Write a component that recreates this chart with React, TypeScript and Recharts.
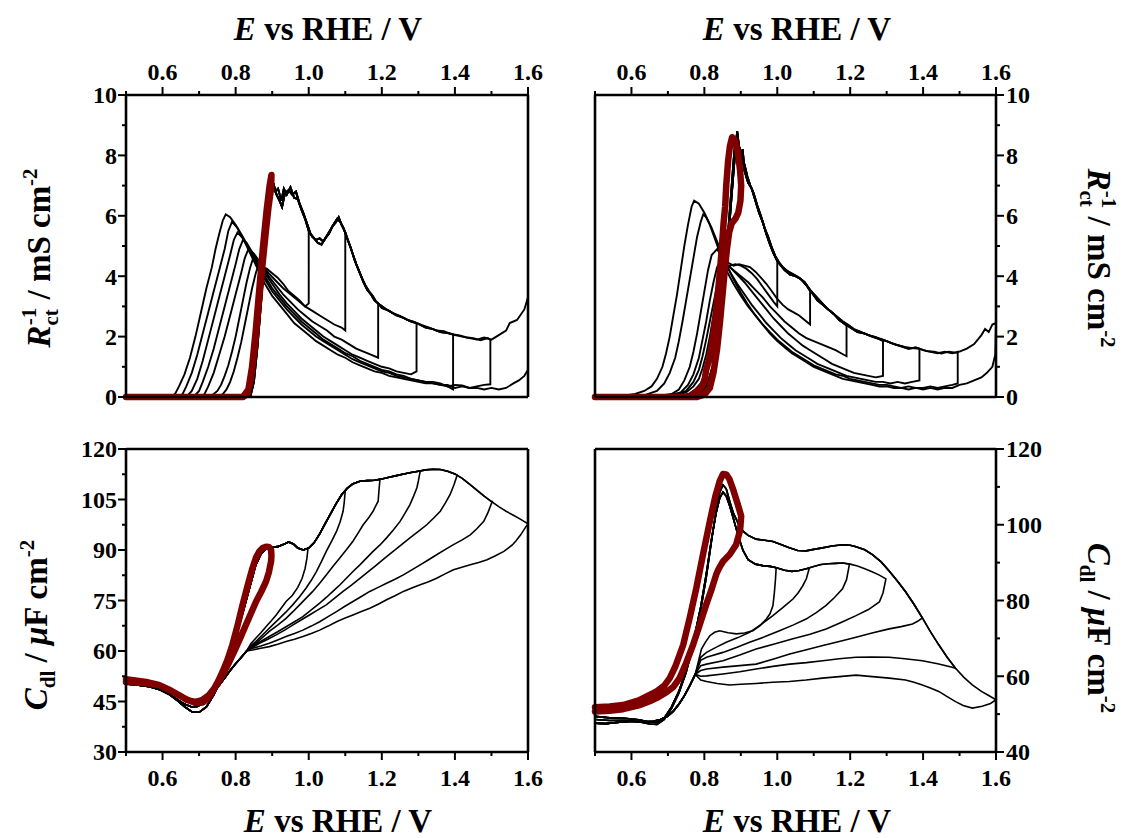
import React from "react";
import { LineChart, Line, XAxis, YAxis } from "recharts";

type P = [number, number];

// axes
const xTicks = [0.5, 0.6, 0.7, 0.8, 0.9, 1.0, 1.1, 1.2, 1.3, 1.4, 1.5, 1.6];
const xLabels = ["0.6", "0.8", "1.0", "1.2", "1.4", "1.6"];
const rTicks = [0, 1, 2, 3, 4, 5, 6, 7, 8, 9, 10];
const rLabels = [0, 2, 4, 6, 8, 10];
const cLeftTicks = [30, 37.5, 45, 52.5, 60, 67.5, 75, 82.5, 90, 97.5, 105, 112.5, 120];
const cLeftLabels = [30, 45, 60, 75, 90, 105, 120];
const cRightTicks = [40, 50, 60, 70, 80, 90, 100, 110, 120];
const cRightLabels = [40, 60, 80, 100, 120];

// ---------- top left: 1/Rct, two anodic sweeps (cycles overlap on it) ----------
const tlAnodicA: P[] = [
  [0.5, 0], [0.6, 0], [0.7, 0], [0.8, 0], [0.835, 0], [0.845, 0.3], [0.855, 1.2], [0.865, 2.6], [0.875, 4.1],
  [0.885, 5.6], [0.895, 6.7], [0.905, 7.0], [0.912, 6.7], [0.92, 6.5], [0.927, 6.3], [0.935, 6.75], [0.945, 6.85],
  [0.955, 6.7], [0.965, 6.8], [0.975, 6.4], [0.985, 6.1], [0.995, 5.75], [1.005, 5.4], [1.015, 5.25], [1.025, 5.1],
  [1.035, 5.05], [1.045, 5.25], [1.055, 5.4], [1.065, 5.65], [1.075, 5.8], [1.082, 5.95], [1.09, 5.7], [1.1, 5.45],
  [1.11, 5.1], [1.12, 4.75], [1.13, 4.4], [1.14, 4.1], [1.15, 3.8], [1.16, 3.55], [1.17, 3.4], [1.18, 3.2],
  [1.19, 3.1], [1.2, 2.95], [1.22, 2.85], [1.24, 2.7], [1.26, 2.62], [1.28, 2.5], [1.3, 2.42], [1.32, 2.3],
  [1.34, 2.25], [1.36, 2.15], [1.38, 2.12], [1.4, 2.05], [1.42, 2.0], [1.44, 1.95], [1.46, 1.9], [1.48, 1.97],
  [1.5, 1.9], [1.52, 2.05], [1.54, 2.2], [1.55, 2.45], [1.57, 2.55], [1.59, 2.9], [1.6, 3.3],
];
const tlAnodicB: P[] = [
  [0.5, 0], [0.6, 0], [0.7, 0], [0.8, 0], [0.84, 0], [0.85, 0.5], [0.86, 1.7], [0.87, 3.2], [0.88, 4.8],
  [0.89, 6.1], [0.9, 6.9], [0.908, 6.8], [0.916, 6.9], [0.925, 6.5], [0.932, 6.9], [0.94, 6.7], [0.95, 6.95],
  [0.96, 6.6], [0.97, 6.55], [0.98, 6.2], [0.99, 5.9], [1.0, 5.5], [1.01, 5.3], [1.02, 5.2], [1.03, 5.25],
  [1.04, 5.15], [1.05, 5.35], [1.06, 5.55], [1.07, 5.75], [1.078, 5.9], [1.086, 5.8], [1.095, 5.6], [1.105, 5.25],
  [1.115, 4.95], [1.125, 4.55], [1.135, 4.25], [1.145, 3.95], [1.155, 3.7], [1.165, 3.5], [1.175, 3.35], [1.185, 3.15],
  [1.195, 3.05], [1.21, 2.92], [1.23, 2.78], [1.25, 2.68], [1.27, 2.55], [1.29, 2.48], [1.31, 2.38], [1.33, 2.3],
  [1.35, 2.2], [1.37, 2.18], [1.39, 2.08], [1.41, 2.05], [1.43, 1.98], [1.45, 1.95], [1.47, 1.88], [1.49, 1.95],
  [1.51, 1.98], [1.53, 2.1], [1.55, 2.35], [1.56, 2.5], [1.58, 2.7], [1.6, 3.2],
];
const tlTurns = [1.0, 1.1, 1.19, 1.295, 1.395, 1.497, 1.6];
const tlR10: P[] = [
  [1.0, 5.55], [1.0, 3.1], [0.99, 3.0], [0.975, 3.2], [0.96, 3.35], [0.945, 3.5], [0.93, 3.75], [0.915, 3.95],
  [0.9, 4.1], [0.885, 4.25], [0.872, 4.3], [0.862, 4.35], [0.855, 4.1], [0.845, 3.6], [0.835, 3.0], [0.825, 2.4],
  [0.815, 1.8], [0.805, 1.3], [0.795, 0.85], [0.785, 0.5], [0.775, 0.25], [0.765, 0.1], [0.755, 0], [0.5, 0],
];
const tlR11: P[] = [
  [1.1, 5.45], [1.1, 2.2], [1.09, 2.3], [1.07, 2.4], [1.05, 2.55], [1.03, 2.7], [1.01, 2.85], [0.99, 3.0],
  [0.97, 3.2], [0.95, 3.4], [0.93, 3.6], [0.91, 3.85], [0.89, 4.1], [0.87, 4.4], [0.855, 4.55], [0.848, 4.6],
  [0.84, 4.3], [0.83, 3.8], [0.82, 3.2], [0.81, 2.6], [0.8, 2.0], [0.79, 1.5], [0.78, 1.05], [0.77, 0.7],
  [0.76, 0.4], [0.75, 0.2], [0.735, 0.05], [0.725, 0], [0.5, 0],
];
const tlR12: P[] = [
  [1.19, 3.1], [1.19, 1.3], [1.17, 1.4], [1.15, 1.5], [1.13, 1.6], [1.11, 1.75], [1.09, 1.9], [1.07, 2.0],
  [1.05, 2.2], [1.03, 2.35], [1.01, 2.5], [0.99, 2.7], [0.97, 2.9], [0.95, 3.15], [0.93, 3.4], [0.91, 3.7],
  [0.89, 4.0], [0.87, 4.4], [0.85, 4.75], [0.835, 4.9], [0.825, 4.6], [0.815, 4.1], [0.8, 3.4], [0.785, 2.7],
  [0.77, 2.0], [0.755, 1.4], [0.74, 0.8], [0.725, 0.35], [0.715, 0.1], [0.705, 0], [0.5, 0],
];
const tlR13: P[] = [
  [1.295, 2.42], [1.295, 0.85], [1.28, 0.75], [1.26, 0.8], [1.24, 0.85], [1.22, 0.95], [1.2, 1.0], [1.18, 1.1],
  [1.16, 1.2], [1.14, 1.3], [1.12, 1.4], [1.1, 1.55], [1.08, 1.7], [1.06, 1.85], [1.04, 2.0], [1.02, 2.2],
  [1.0, 2.4], [0.98, 2.6], [0.96, 2.85], [0.94, 3.1], [0.92, 3.4], [0.9, 3.75], [0.88, 4.1], [0.86, 4.5],
  [0.84, 4.9], [0.83, 5.1], [0.82, 5.2], [0.81, 4.9], [0.8, 4.4], [0.785, 3.7], [0.77, 3.0], [0.755, 2.3],
  [0.74, 1.6], [0.725, 1.0], [0.71, 0.5], [0.7, 0.2], [0.685, 0], [0.5, 0],
];
const tlR14: P[] = [
  [1.395, 2.08], [1.395, 0.25], [1.38, 0.35], [1.36, 0.4], [1.34, 0.45], [1.32, 0.5], [1.3, 0.55], [1.28, 0.6],
  [1.26, 0.7], [1.24, 0.75], [1.22, 0.85], [1.2, 0.9], [1.18, 1.0], [1.16, 1.1], [1.14, 1.2], [1.12, 1.35],
  [1.1, 1.45], [1.08, 1.6], [1.06, 1.75], [1.04, 1.9], [1.02, 2.1], [1.0, 2.3], [0.98, 2.5], [0.96, 2.75],
  [0.94, 3.0], [0.92, 3.3], [0.9, 3.6], [0.88, 4.0], [0.86, 4.4], [0.84, 4.85], [0.82, 5.25], [0.805, 5.45],
  [0.795, 5.2], [0.785, 4.7], [0.77, 4.0], [0.755, 3.3], [0.74, 2.6], [0.725, 1.9], [0.71, 1.2], [0.695, 0.6],
  [0.68, 0.2], [0.665, 0], [0.5, 0],
];
const tlR15: P[] = [
  [1.497, 1.9], [1.497, 0.42], [1.48, 0.4], [1.46, 0.35], [1.44, 0.3], [1.42, 0.38], [1.4, 0.4], [1.38, 0.35],
  [1.36, 0.45], [1.34, 0.5], [1.32, 0.5], [1.3, 0.55], [1.28, 0.6], [1.26, 0.65], [1.24, 0.7], [1.22, 0.8],
  [1.2, 0.85], [1.18, 0.95], [1.16, 1.05], [1.14, 1.15], [1.12, 1.25], [1.1, 1.4], [1.08, 1.55], [1.06, 1.7],
  [1.04, 1.85], [1.02, 2.0], [1.0, 2.2], [0.98, 2.4], [0.96, 2.65], [0.94, 2.9], [0.92, 3.2], [0.9, 3.5],
  [0.88, 3.9], [0.86, 4.35], [0.84, 4.85], [0.82, 5.3], [0.805, 5.6], [0.79, 5.8], [0.78, 5.5], [0.77, 4.9],
  [0.755, 4.2], [0.74, 3.5], [0.725, 2.8], [0.71, 2.1], [0.695, 1.4], [0.68, 0.8], [0.665, 0.35], [0.655, 0.1],
  [0.645, 0], [0.5, 0],
];
const tlR16: P[] = [
  [1.6, 3.3], [1.6, 0.9], [1.59, 0.7], [1.575, 0.55], [1.56, 0.45], [1.54, 0.3], [1.52, 0.25], [1.5, 0.3],
  [1.48, 0.25], [1.46, 0.3], [1.44, 0.3], [1.42, 0.35], [1.4, 0.3], [1.38, 0.4], [1.36, 0.4], [1.34, 0.45],
  [1.32, 0.45], [1.3, 0.5], [1.28, 0.55], [1.26, 0.6], [1.24, 0.65], [1.22, 0.7], [1.2, 0.8], [1.18, 0.85],
  [1.16, 0.95], [1.14, 1.05], [1.12, 1.15], [1.1, 1.3], [1.08, 1.4], [1.06, 1.55], [1.04, 1.7], [1.02, 1.85],
  [1.0, 2.05], [0.98, 2.25], [0.96, 2.45], [0.94, 2.75], [0.92, 3.05], [0.9, 3.35], [0.88, 3.75], [0.86, 4.25],
  [0.84, 4.75], [0.82, 5.25], [0.8, 5.7], [0.785, 5.95], [0.773, 6.05], [0.765, 5.85], [0.755, 5.4], [0.745, 4.9],
  [0.735, 4.3], [0.72, 3.6], [0.705, 2.8], [0.69, 2.0], [0.675, 1.3], [0.66, 0.75], [0.645, 0.35], [0.635, 0.12],
  [0.625, 0], [0.5, 0],
];
const tlRed: P[] = [
  [0.5, 0], [0.7, 0], [0.82, 0], [0.835, 0.25], [0.845, 1.0], [0.855, 2.2], [0.865, 3.6], [0.875, 5.0],
  [0.885, 6.2], [0.893, 7.0], [0.898, 7.35], [0.897, 6.9], [0.89, 6.3], [0.882, 5.4], [0.872, 4.2], [0.862, 2.9],
  [0.852, 1.6], [0.842, 0.6], [0.832, 0.1], [0.82, 0], [0.5, 0],
];

// ---------- top right ----------
const trAnodicA: P[] = [
  [0.5, 0], [0.6, 0], [0.7, 0.02], [0.76, 0.05], [0.79, 0.15], [0.81, 0.4], [0.825, 0.9], [0.84, 1.9],
  [0.85, 3.0], [0.86, 4.4], [0.868, 5.6], [0.875, 6.7], [0.881, 7.6], [0.886, 8.3], [0.89, 8.8], [0.895, 8.3],
  [0.9, 7.9], [0.905, 8.2], [0.91, 7.5], [0.92, 7.1], [0.93, 6.9], [0.94, 6.5], [0.95, 6.1], [0.96, 5.8],
  [0.97, 5.4], [0.98, 5.05], [0.99, 4.75], [1.0, 4.5], [1.01, 4.35], [1.02, 4.2], [1.035, 4.05], [1.05, 4.0],
  [1.065, 3.9], [1.08, 3.7], [1.095, 3.45], [1.11, 3.2], [1.125, 3.05], [1.14, 2.9], [1.155, 2.75], [1.17, 2.55],
  [1.185, 2.42], [1.2, 2.3], [1.22, 2.15], [1.24, 2.1], [1.26, 2.0], [1.28, 1.92], [1.3, 1.85], [1.32, 1.75],
  [1.34, 1.68], [1.36, 1.6], [1.38, 1.64], [1.4, 1.55], [1.42, 1.5], [1.44, 1.45], [1.46, 1.5], [1.48, 1.45],
  [1.5, 1.5], [1.52, 1.6], [1.54, 1.75], [1.56, 2.05], [1.57, 2.25], [1.58, 2.15], [1.59, 2.4], [1.6, 2.45],
];
const trAnodicB: P[] = [
  [0.5, 0], [0.6, 0], [0.7, 0.02], [0.76, 0.05], [0.79, 0.2], [0.81, 0.5], [0.825, 1.1], [0.84, 2.2],
  [0.85, 3.3], [0.86, 4.7], [0.868, 5.9], [0.875, 7.0], [0.88, 7.8], [0.885, 8.5], [0.888, 8.6], [0.893, 8.1],
  [0.898, 8.2], [0.903, 7.7], [0.91, 7.7], [0.918, 7.3], [0.926, 7.0], [0.935, 6.75], [0.945, 6.35], [0.955, 6.0],
  [0.965, 5.6], [0.975, 5.3], [0.985, 4.95], [0.995, 4.65], [1.005, 4.45], [1.015, 4.3], [1.03, 4.15], [1.045, 4.05],
  [1.06, 3.95], [1.075, 3.8], [1.09, 3.55], [1.105, 3.35], [1.12, 3.15], [1.135, 2.95], [1.15, 2.8], [1.165, 2.65],
  [1.18, 2.5], [1.195, 2.38], [1.21, 2.25], [1.23, 2.15], [1.25, 2.05], [1.27, 1.98], [1.29, 1.9], [1.31, 1.8],
  [1.33, 1.72], [1.35, 1.66], [1.37, 1.62], [1.39, 1.6], [1.41, 1.52], [1.43, 1.5], [1.45, 1.44], [1.47, 1.5],
  [1.49, 1.47], [1.51, 1.55], [1.53, 1.65], [1.55, 1.9], [1.565, 2.15], [1.575, 2.2], [1.585, 2.3], [1.6, 2.5],
];
const trTurns = [1.0, 1.09, 1.19, 1.29, 1.39, 1.495, 1.6];
const trR10: P[] = [
  [1.0, 4.5], [1.0, 3.0], [0.99, 3.15], [0.975, 3.4], [0.96, 3.65], [0.945, 3.9], [0.93, 4.1], [0.915, 4.25],
  [0.9, 4.35], [0.885, 4.4], [0.87, 4.35], [0.86, 4.2], [0.85, 3.8], [0.84, 3.2], [0.83, 2.5], [0.82, 1.8],
  [0.81, 1.2], [0.8, 0.75], [0.79, 0.45], [0.775, 0.25], [0.76, 0.12], [0.74, 0.05], [0.7, 0.02], [0.5, 0],
];
const trR11: P[] = [
  [1.09, 3.5], [1.09, 2.4], [1.075, 2.55], [1.06, 2.7], [1.045, 2.8], [1.03, 2.9], [1.015, 3.05], [1.0, 3.25],
  [0.985, 3.5], [0.97, 3.75], [0.955, 3.95], [0.94, 4.15], [0.925, 4.3], [0.91, 4.35], [0.895, 4.4], [0.88, 4.35],
  [0.865, 4.45], [0.855, 4.3], [0.845, 3.9], [0.835, 3.3], [0.825, 2.7], [0.815, 2.0], [0.805, 1.4], [0.795, 0.95],
  [0.785, 0.6], [0.77, 0.35], [0.75, 0.15], [0.72, 0.05], [0.5, 0],
];
const trR12: P[] = [
  [1.19, 2.35], [1.19, 1.35], [1.175, 1.45], [1.16, 1.55], [1.14, 1.65], [1.12, 1.75], [1.1, 1.85], [1.08, 1.95],
  [1.06, 2.1], [1.04, 2.3], [1.02, 2.5], [1.0, 2.75], [0.98, 3.0], [0.96, 3.3], [0.94, 3.55], [0.92, 3.8],
  [0.9, 4.0], [0.88, 4.2], [0.865, 4.35], [0.855, 4.4], [0.845, 4.2], [0.835, 3.7], [0.825, 3.1], [0.815, 2.5],
  [0.805, 1.9], [0.795, 1.35], [0.785, 0.9], [0.77, 0.5], [0.75, 0.2], [0.72, 0.07], [0.68, 0.02], [0.5, 0],
];
const trR13: P[] = [
  [1.29, 1.85], [1.29, 0.7], [1.27, 0.65], [1.25, 0.7], [1.23, 0.75], [1.21, 0.8], [1.19, 0.9], [1.17, 1.0],
  [1.15, 1.1], [1.13, 1.25], [1.11, 1.4], [1.09, 1.55], [1.07, 1.7], [1.05, 1.9], [1.03, 2.1], [1.01, 2.35],
  [0.99, 2.6], [0.97, 2.9], [0.95, 3.2], [0.93, 3.5], [0.91, 3.8], [0.89, 4.05], [0.87, 4.3], [0.855, 4.45],
  [0.845, 4.5], [0.835, 4.3], [0.825, 3.8], [0.815, 3.2], [0.805, 2.5], [0.795, 1.9], [0.785, 1.3], [0.77, 0.75],
  [0.755, 0.4], [0.735, 0.15], [0.7, 0.05], [0.5, 0],
];
const trR14: P[] = [
  [1.39, 1.6], [1.39, 0.55], [1.37, 0.5], [1.35, 0.45], [1.33, 0.5], [1.31, 0.45], [1.29, 0.5], [1.27, 0.5],
  [1.25, 0.55], [1.23, 0.6], [1.21, 0.65], [1.19, 0.7], [1.17, 0.8], [1.15, 0.9], [1.13, 1.0], [1.11, 1.1],
  [1.09, 1.25], [1.07, 1.4], [1.05, 1.55], [1.03, 1.75], [1.01, 1.95], [0.99, 2.2], [0.97, 2.45], [0.95, 2.75],
  [0.93, 3.05], [0.91, 3.4], [0.89, 3.75], [0.87, 4.15], [0.85, 4.6], [0.835, 4.9], [0.82, 4.7], [0.81, 4.2],
  [0.8, 3.5], [0.79, 2.8], [0.78, 2.1], [0.77, 1.5], [0.76, 1.0], [0.745, 0.55], [0.73, 0.25], [0.71, 0.1],
  [0.67, 0.03], [0.5, 0],
];
const trR15: P[] = [
  [1.495, 1.5], [1.495, 0.45], [1.48, 0.4], [1.46, 0.35], [1.44, 0.3], [1.42, 0.35], [1.4, 0.3], [1.38, 0.3],
  [1.36, 0.35], [1.34, 0.3], [1.32, 0.35], [1.3, 0.4], [1.28, 0.4], [1.26, 0.45], [1.24, 0.5], [1.22, 0.55],
  [1.2, 0.6], [1.18, 0.7], [1.16, 0.75], [1.14, 0.85], [1.12, 0.95], [1.1, 1.05], [1.08, 1.2], [1.06, 1.35],
  [1.04, 1.5], [1.02, 1.7], [1.0, 1.9], [0.98, 2.15], [0.96, 2.4], [0.94, 2.7], [0.92, 3.0], [0.9, 3.35],
  [0.88, 3.75], [0.86, 4.2], [0.845, 4.7], [0.83, 5.2], [0.815, 5.7], [0.805, 5.95], [0.797, 6.05], [0.79, 5.8],
  [0.78, 5.3], [0.77, 4.6], [0.76, 3.9], [0.75, 3.2], [0.74, 2.5], [0.73, 1.85], [0.72, 1.3], [0.705, 0.8],
  [0.69, 0.45], [0.67, 0.2], [0.64, 0.08], [0.6, 0.02], [0.5, 0],
];
const trR16: P[] = [
  [1.6, 2.45], [1.598, 1.4], [1.59, 1.0], [1.575, 0.8], [1.56, 0.65], [1.54, 0.55], [1.52, 0.45], [1.5, 0.4],
  [1.48, 0.3], [1.46, 0.3], [1.44, 0.25], [1.42, 0.3], [1.4, 0.25], [1.38, 0.3], [1.36, 0.25], [1.34, 0.3],
  [1.32, 0.3], [1.3, 0.35], [1.28, 0.35], [1.26, 0.4], [1.24, 0.45], [1.22, 0.5], [1.2, 0.55], [1.18, 0.6],
  [1.16, 0.7], [1.14, 0.8], [1.12, 0.9], [1.1, 1.0], [1.08, 1.15], [1.06, 1.3], [1.04, 1.45], [1.02, 1.65],
  [1.0, 1.85], [0.98, 2.1], [0.96, 2.4], [0.94, 2.7], [0.92, 3.05], [0.9, 3.45], [0.88, 3.9], [0.86, 4.4],
  [0.84, 5.0], [0.82, 5.6], [0.8, 6.1], [0.785, 6.4], [0.772, 6.5], [0.765, 6.3], [0.755, 5.7], [0.745, 5.0],
  [0.735, 4.2], [0.725, 3.4], [0.715, 2.7], [0.705, 2.0], [0.695, 1.45], [0.685, 1.0], [0.67, 0.6], [0.655, 0.35],
  [0.635, 0.2], [0.61, 0.1], [0.58, 0.04], [0.5, 0],
];
const trRed: P[] = [
  [0.5, 0], [0.7, 0], [0.76, 0.02], [0.775, 0.15], [0.79, 0.3], [0.8, 0.5], [0.805, 0.9], [0.812, 1.2],
  [0.82, 1.7], [0.83, 2.6], [0.84, 3.8], [0.847, 4.8], [0.853, 5.8], [0.857, 6.3], [0.86, 7.0], [0.865, 7.8],
  [0.87, 8.3], [0.876, 8.6], [0.884, 8.5], [0.892, 8.1], [0.898, 7.5], [0.901, 7.0], [0.899, 6.5], [0.893, 6.1],
  [0.885, 5.9], [0.875, 5.75], [0.868, 5.45], [0.862, 4.9], [0.856, 4.2], [0.85, 3.4], [0.843, 2.5], [0.835, 1.6],
  [0.825, 0.8], [0.815, 0.3], [0.8, 0.08], [0.78, 0], [0.5, 0],
];

// ---------- bottom left: Cdl ----------
const blAnodic: P[] = [
  [0.5, 50.2], [0.53, 49.9], [0.56, 49.5], [0.59, 48.6], [0.62, 47.0], [0.64, 45.3], [0.66, 43.5], [0.68, 42.0],
  [0.7, 41.8], [0.72, 43.4], [0.74, 47.0], [0.76, 51.5], [0.78, 57.0], [0.8, 64.0], [0.82, 71.5], [0.84, 79.5],
  [0.855, 85.5], [0.87, 89.0], [0.885, 90.5], [0.9, 90.8], [0.915, 91.0], [0.93, 91.6], [0.945, 92.4], [0.958, 91.8],
  [0.97, 90.6], [0.985, 90.0], [1.0, 90.6], [1.015, 92.2], [1.03, 94.8], [1.045, 97.8], [1.06, 100.8], [1.075, 103.8],
  [1.09, 106.4], [1.105, 108.3], [1.12, 109.6], [1.14, 110.4], [1.16, 110.6], [1.18, 110.7], [1.2, 111.1], [1.22, 111.6],
  [1.24, 112.1], [1.26, 112.6], [1.28, 113.0], [1.3, 113.4], [1.32, 113.8], [1.34, 114.0], [1.36, 113.9], [1.38, 113.4],
  [1.4, 112.6], [1.42, 111.3], [1.44, 109.6], [1.46, 107.8], [1.48, 106.0], [1.5, 104.4], [1.52, 102.9], [1.54, 101.5],
  [1.56, 100.3], [1.58, 99.1], [1.6, 97.8],
];
const blTurns = [0.998, 1.1, 1.195, 1.305, 1.406, 1.502, 1.6];
const blR10: P[] = [
  [0.998, 90.4], [0.995, 87.5], [0.99, 84.5], [0.982, 81.6], [0.97, 78.9], [0.955, 76.5], [0.938, 74.7],
  [0.924, 72.6], [0.911, 70.7], [0.897, 68.9], [0.883, 67.2], [0.869, 65.4], [0.855, 63.8], [0.842, 62.2],
];
const blR11: P[] = [
  [1.1, 107.6], [1.097, 104], [1.094, 101.5], [1.086, 98.4], [1.076, 95.5], [1.062, 92.5], [1.048, 89.6],
  [1.035, 86.6], [1.021, 83.6], [1.007, 81.0], [0.993, 78.7], [0.975, 76.1], [0.956, 73.7], [0.938, 71.6],
  [0.92, 69.7], [0.9, 67.6], [0.883, 65.8], [0.869, 64.3], [0.855, 62.8], [0.842, 61.6],
];
const blR12: P[] = [
  [1.195, 111.0], [1.192, 107.5], [1.19, 104.5], [1.183, 103], [1.176, 101.5], [1.163, 99.4], [1.149, 97.5],
  [1.135, 95.0], [1.121, 92.6], [1.103, 90.1], [1.085, 87.6], [1.066, 85.1], [1.048, 82.6], [1.03, 80.1],
  [1.011, 77.7], [0.993, 75.7], [0.975, 73.7], [0.956, 71.6], [0.938, 69.7], [0.915, 67.7], [0.892, 65.8],
  [0.873, 64.0], [0.855, 62.3], [0.84, 61.2],
];
const blR13: P[] = [
  [1.305, 113.4], [1.3, 110.5], [1.296, 108.5], [1.287, 106], [1.277, 103.5], [1.264, 101], [1.25, 98.5],
  [1.232, 96], [1.213, 93.6], [1.195, 91.5], [1.176, 89.6], [1.158, 87.6], [1.14, 85.6], [1.121, 83.6],
  [1.103, 81.6], [1.085, 79.6], [1.066, 77.7], [1.048, 75.9], [1.03, 74.2], [1.007, 72.2], [0.984, 70.2],
  [0.961, 68.7], [0.938, 67.2], [0.915, 65.7], [0.892, 64.3], [0.873, 63.1], [0.855, 62.0], [0.84, 61.0],
];
const blR14: P[] = [
  [1.406, 112.2], [1.398, 109.5], [1.387, 106.5], [1.374, 104], [1.36, 101.5], [1.342, 99.5], [1.323, 97.5],
  [1.3, 95.5], [1.277, 93.6], [1.254, 91.6], [1.231, 89.6], [1.208, 87.6], [1.186, 85.6], [1.163, 83.6],
  [1.14, 81.6], [1.117, 79.6], [1.094, 77.7], [1.071, 75.7], [1.048, 73.7], [1.025, 72.2], [1.002, 70.7],
  [0.979, 69.2], [0.956, 67.7], [0.934, 66.2], [0.911, 64.8], [0.888, 63.5], [0.865, 62.3], [0.845, 61.0],
];
const blR15: P[] = [
  [1.502, 104.4], [1.49, 101], [1.479, 98.5], [1.46, 96.3], [1.442, 94.5], [1.42, 93.0], [1.396, 91.6],
  [1.373, 90.1], [1.35, 88.6], [1.328, 87.1], [1.305, 85.6], [1.282, 84.1], [1.259, 82.6], [1.236, 81.3],
  [1.213, 80.1], [1.19, 78.9], [1.167, 77.7], [1.144, 76.2], [1.121, 74.7], [1.098, 73.2], [1.076, 71.7],
  [1.053, 70.2], [1.03, 68.7], [1.007, 67.4], [0.984, 66.2], [0.961, 65.2], [0.938, 64.3], [0.915, 63.3],
  [0.892, 62.3], [0.869, 61.5], [0.846, 60.8],
];
const blR16: P[] = [
  [1.6, 97.8], [1.59, 96.2], [1.58, 94.5], [1.568, 92.8], [1.557, 91.5], [1.545, 90.5], [1.534, 89.6],
  [1.511, 88.3], [1.488, 87.1], [1.465, 86.3], [1.442, 85.6], [1.419, 84.9], [1.396, 84.1], [1.373, 82.9],
  [1.35, 81.6], [1.328, 80.6], [1.305, 79.7], [1.282, 78.7], [1.259, 77.7], [1.236, 76.4], [1.213, 75.2],
  [1.19, 73.9], [1.167, 72.7], [1.144, 71.7], [1.121, 70.7], [1.098, 69.7], [1.076, 68.7], [1.053, 67.4],
  [1.03, 66.2], [1.007, 65.2], [0.984, 64.3], [0.961, 63.5], [0.938, 62.8], [0.915, 62.0], [0.892, 61.3],
  [0.869, 60.8], [0.846, 60.3],
];
const blBack: P[] = [
  [0.83, 60.0], [0.815, 58.1], [0.8, 56.2], [0.785, 54.2], [0.77, 52.0], [0.755, 49.8], [0.74, 47.6], [0.725, 45.8],
  [0.71, 44.4], [0.695, 43.5], [0.68, 43.4], [0.665, 44.0], [0.65, 44.9], [0.635, 46.0], [0.62, 47.1], [0.6, 48.3],
  [0.58, 49.1], [0.56, 49.7], [0.54, 50.1], [0.52, 50.4], [0.5, 50.6],
];
const blRed: P[] = [
  [0.5, 51.6], [0.53, 51.2], [0.56, 50.7], [0.59, 49.9], [0.62, 48.4], [0.645, 46.8], [0.67, 45.4], [0.69, 44.6],
  [0.71, 44.7], [0.725, 46.0], [0.74, 48.6], [0.752, 51.0], [0.764, 53.8], [0.778, 57.5], [0.791, 61.8], [0.805, 67.5],
  [0.819, 73.7], [0.833, 79.5], [0.846, 84.6], [0.856, 87.8], [0.865, 89.6], [0.874, 90.6], [0.883, 91.0], [0.891, 90.9],
  [0.897, 90.0], [0.898, 88.4], [0.897, 86.6], [0.891, 83.4], [0.883, 80.6], [0.87, 77.6], [0.856, 74.7], [0.842, 71.2],
  [0.828, 67.7], [0.814, 64.2], [0.8, 60.8], [0.782, 56.6], [0.764, 52.8], [0.746, 49.5], [0.727, 46.9], [0.708, 45.4],
  [0.69, 44.9], [0.668, 45.4], [0.645, 46.9], [0.618, 48.5], [0.59, 49.9], [0.55, 50.5], [0.5, 50.8],
];

// ---------- bottom right ----------
const brAnodicHigh: P[] = [
  [0.5, 48.6], [0.54, 48.3], [0.58, 48.4], [0.62, 48.0], [0.65, 47.4], [0.67, 47.3], [0.69, 48.6], [0.71, 51.5],
  [0.73, 55.5], [0.75, 61.0], [0.77, 68.5], [0.79, 77.5], [0.805, 86.0], [0.82, 96.0], [0.832, 103.5], [0.842, 108.5],
  [0.851, 110.5], [0.86, 109.5], [0.87, 106.0], [0.88, 103.0], [0.893, 100.3], [0.906, 98.3], [0.92, 97.2], [0.942, 96.2],
  [0.965, 95.9], [0.988, 95.6], [1.01, 94.8], [1.033, 93.9], [1.056, 93.2], [1.079, 93.1], [1.1, 93.5], [1.124, 93.9],
  [1.15, 94.4], [1.179, 94.7], [1.2, 94.6], [1.216, 94.2], [1.24, 93.4], [1.261, 92.1], [1.285, 90.2], [1.307, 87.8],
  [1.33, 85.1], [1.352, 82.3], [1.375, 79.0], [1.398, 75.4], [1.42, 71.8], [1.443, 68.3], [1.466, 65.0], [1.489, 62.1],
  [1.512, 59.7], [1.535, 57.7], [1.56, 56.0], [1.58, 54.9], [1.6, 53.8],
];
const brAnodicLow: P[] = [
  [0.5, 49.4], [0.54, 49.0], [0.58, 48.9], [0.62, 48.5], [0.65, 47.9], [0.67, 47.8], [0.69, 49.0], [0.71, 51.9],
  [0.73, 56.0], [0.75, 61.6], [0.77, 69.2], [0.79, 78.3], [0.805, 86.8], [0.82, 96.4], [0.832, 103.0], [0.842, 107.0],
  [0.851, 108.6], [0.86, 107.6], [0.87, 104.8], [0.88, 101.5], [0.893, 97.0], [0.906, 93.2], [0.92, 90.8], [0.94, 89.6],
  [0.96, 89.2], [0.98, 89.0], [1.0, 88.6], [1.02, 88.0], [1.04, 87.7], [1.06, 87.9], [1.08, 88.4], [1.1, 89.0],
  [1.12, 89.5], [1.14, 89.7], [1.16, 89.8], [1.18, 89.9], [1.2, 89.6], [1.22, 89.1], [1.24, 88.4], [1.26, 87.6],
  [1.28, 86.7], [1.3, 85.6],
];
const brTurns = [0.997, 1.088, 1.198, 1.298, 1.398, 1.489, 1.6];
const brR10: P[] = [
  [0.997, 88.7], [0.995, 85.5], [0.992, 82.0], [0.988, 78.6], [0.98, 76.5], [0.97, 75.1], [0.952, 73.3],
  [0.933, 72.0], [0.91, 71.4], [0.888, 71.2], [0.865, 71.5], [0.842, 72.0], [0.828, 71.6], [0.815, 70.7],
  [0.803, 69.0], [0.792, 67.2],
];
const brR11: P[] = [
  [1.088, 88.6], [1.08, 85.8], [1.07, 83.9], [1.057, 82.0], [1.043, 80.4], [1.015, 78.1], [0.988, 76.0],
  [0.956, 73.7], [0.924, 71.6], [0.892, 70.2], [0.86, 69.0], [0.833, 67.7], [0.806, 66.3], [0.79, 65.0],
];
const brR12: P[] = [
  [1.198, 89.6], [1.19, 85.5], [1.179, 83.1], [1.157, 80.8], [1.134, 78.7], [1.107, 76.8], [1.079, 75.1],
  [1.043, 73.5], [1.006, 72.0], [0.965, 70.4], [0.924, 69.0], [0.888, 67.6], [0.851, 66.3], [0.806, 65.0],
  [0.79, 64.2],
];
const brR13: P[] = [
  [1.298, 85.7], [1.29, 82.0], [1.28, 79.6], [1.25, 77.6], [1.216, 76.0], [1.175, 74.2], [1.134, 72.5],
  [1.09, 71.1], [1.043, 69.9], [0.992, 68.5], [0.942, 67.2], [0.897, 65.6], [0.851, 64.1], [0.806, 63.2],
  [0.79, 62.8],
];
const brR14: P[] = [
  [1.398, 75.4], [1.385, 74.5], [1.371, 73.8], [1.34, 73.1], [1.307, 72.5], [1.26, 71.4], [1.216, 70.3],
  [1.17, 69.2], [1.125, 68.1], [1.08, 67.0], [1.034, 65.9], [0.988, 64.5], [0.942, 63.2], [0.897, 62.8],
  [0.851, 62.4], [0.806, 61.9], [0.79, 61.5],
];
const brR15: P[] = [
  [1.489, 62.1], [1.48, 62.4], [1.44, 63.3], [1.398, 64.1], [1.35, 64.6], [1.307, 65.0], [1.26, 65.1],
  [1.216, 65.0], [1.17, 64.6], [1.125, 64.1], [1.08, 63.6], [1.034, 63.2], [0.988, 62.6], [0.942, 61.9],
  [0.897, 61.2], [0.851, 60.6], [0.806, 60.1], [0.79, 60.0],
];
const brR16: P[] = [
  [1.6, 53.8], [1.585, 52.8], [1.562, 52.1], [1.535, 51.6], [1.51, 52.3], [1.489, 53.3], [1.465, 54.7],
  [1.443, 56.0], [1.42, 56.9], [1.398, 57.7], [1.375, 58.4], [1.352, 59.0], [1.307, 59.5], [1.261, 59.9],
  [1.216, 60.3], [1.17, 59.9], [1.124, 59.5], [1.079, 59.0], [1.033, 58.6], [0.988, 58.4], [0.942, 58.1],
  [0.9, 57.9], [0.869, 57.7], [0.835, 58.1], [0.806, 58.6], [0.79, 59.0],
];
const brBack: P[] = [
  [0.775, 60.5], [0.76, 57.5], [0.745, 54.8], [0.73, 52.6], [0.715, 50.8], [0.7, 49.5], [0.68, 48.6],
  [0.66, 48.1], [0.63, 47.9], [0.6, 48.1], [0.56, 47.8], [0.53, 47.5], [0.5, 47.6],
];
const brRed: P[] = [
  [0.5, 51.8], [0.54, 52.0], [0.577, 52.4], [0.62, 53.6], [0.669, 56.0], [0.69, 57.5], [0.705, 59.5], [0.72, 62.5],
  [0.742, 68.3], [0.76, 75.5], [0.778, 83.3], [0.797, 92.5], [0.815, 100.9], [0.83, 107.5], [0.842, 111.5], [0.851, 113.4],
  [0.86, 113.3], [0.869, 112.0], [0.88, 109.0], [0.892, 105.3], [0.901, 102.3], [0.898, 98.5], [0.887, 94.7], [0.87, 92.2],
  [0.851, 90.3], [0.84, 88.5], [0.833, 87.0], [0.82, 83.0], [0.805, 78.9], [0.787, 73.5], [0.769, 68.3], [0.75, 63.5],
  [0.732, 59.5], [0.715, 57.2], [0.696, 55.8], [0.67, 54.3], [0.65, 53.4], [0.62, 52.3], [0.577, 51.3], [0.54, 50.9],
  [0.5, 50.7],
];

// ---------- assemble cycles ----------
const pts = (a: P[]) => a.map(([x, y]) => ({ x, y }));
const upTo = (a: P[], t: number) => a.filter((p) => p[0] < t);

const tlSweeps = [tlAnodicA, tlAnodicB, tlAnodicA, tlAnodicB, tlAnodicA, tlAnodicB, tlAnodicA];
const tlCurves = [tlR10, tlR11, tlR12, tlR13, tlR14, tlR15, tlR16].map((r, i) => pts([...upTo(tlSweeps[i], tlTurns[i]), ...r]));
const trSweeps = [trAnodicA, trAnodicB, trAnodicA, trAnodicB, trAnodicA, trAnodicB, trAnodicA];
const trCurves = [trR10, trR11, trR12, trR13, trR14, trR15, trR16].map((r, i) => pts([...upTo(trSweeps[i], trTurns[i]), ...r]));
const blCurves = [blR10, blR11, blR12, blR13, blR14, blR15, blR16].map((r, i) =>
  pts([...upTo(blAnodic, blTurns[i]), ...r, ...blBack])
);
const brSweeps = [brAnodicLow, brAnodicLow, brAnodicLow, brAnodicLow, brAnodicHigh, brAnodicHigh, brAnodicHigh];
const brCurves = [brR10, brR11, brR12, brR13, brR14, brR15, brR16].map((r, i) =>
  pts([...upTo(brSweeps[i], brTurns[i]), ...r, ...brBack])
);

const PAD = 70;
const AX = 30; // space given to each axis, taken out of PAD
const FONT = "'Liberation Serif', 'Times New Roman', serif";
const tickStyle = { fontFamily: FONT, fontWeight: 700, fontSize: 24, fill: "#000" };
const titleStyle = { fontFamily: FONT, fontWeight: 700, fontSize: 33, fill: "#000", whiteSpace: "pre" as const };

function XTick(props: any) {
  const { x, y, payload, side } = props;
  const lab = Number(payload.value).toFixed(1);
  const major = xLabels.includes(lab);
  const dir = side === "top" ? -1 : 1;
  return (
    <g>
      <line x1={x} y1={y} x2={x} y2={y + dir * (major ? 8 : 4)} stroke="#000" strokeWidth={2} />
      {major && (
        <text x={x} y={side === "top" ? y - 15 : y + 34} textAnchor="middle" style={tickStyle}>
          {lab}
        </text>
      )}
    </g>
  );
}

function YTick(props: any) {
  const { x, y, payload, side, labels, showText } = props;
  const v = Number(payload.value);
  const major = labels.includes(v);
  // labelled side points outward, mirror side points inward
  const dir = showText ? (side === "left" ? -1 : 1) : side === "left" ? 1 : -1;
  return (
    <g>
      <line x1={x} y1={y} x2={x + dir * (major ? 8 : 4)} y2={y} stroke="#000" strokeWidth={2} />
      {showText && major && (
        <text x={side === "left" ? x - 9 : x + 10} y={y} dy="0.35em" textAnchor={side === "left" ? "end" : "start"} style={tickStyle}>
          {v}
        </text>
      )}
    </g>
  );
}

type Box = { left: number; top: number; w: number; h: number };

function Panel(props: {
  box: Box;
  curves: { x: number; y: number }[][];
  red: P[];
  yDomain: [number, number];
  yTicks: number[];
  yLabels: number[];
  xSide: "top" | "bottom";
  ySide: "left" | "right";
  lineW: number;
}) {
  const { box, curves, red, yDomain, yTicks, yLabels, xSide, ySide, lineW } = props;
  const xOther = xSide === "top" ? "bottom" : "top";
  const yOther = ySide === "left" ? "right" : "left";
  const axisLine = { stroke: "#000", strokeWidth: 2.6 };
  const m = PAD - AX;
  return (
    <div style={{ position: "absolute", left: box.left - PAD, top: box.top - PAD }}>
      <LineChart width={box.w + 2 * PAD} height={box.h + 2 * PAD} margin={{ top: m, right: m, bottom: m, left: m }}>
        <XAxis
          xAxisId="m"
          type="number"
          dataKey="x"
          domain={[0.5, 1.6]}
          ticks={xTicks}
          interval={0}
          orientation={xSide}
          height={AX}
          tickSize={0}
          tickMargin={0}
          axisLine={axisLine}
          tickLine={false}
          tick={(p: any) => <XTick {...p} side={xSide} />}
        />
        <XAxis
          xAxisId="o"
          type="number"
          dataKey="x"
          domain={[0.5, 1.6]}
          ticks={xTicks}
          orientation={xOther}
          height={AX}
          axisLine={axisLine}
          tickLine={false}
          tick={false}
        />
        <YAxis
          yAxisId="m"
          type="number"
          domain={yDomain}
          ticks={yTicks}
          interval={0}
          orientation={ySide}
          width={AX}
          tickSize={0}
          tickMargin={0}
          axisLine={axisLine}
          tickLine={false}
          tick={(p: any) => <YTick {...p} side={ySide} labels={yLabels} showText />}
        />
        <YAxis
          yAxisId="o"
          type="number"
          domain={yDomain}
          ticks={yTicks}
          interval={0}
          orientation={yOther}
          width={AX}
          tickSize={0}
          tickMargin={0}
          axisLine={axisLine}
          tickLine={false}
          tick={(p: any) => <YTick {...p} side={yOther} labels={yLabels} showText={false} />}
        />
        {curves.map((c, i) => (
          <Line
            key={i}
            data={c}
            xAxisId="m"
            yAxisId="m"
            dataKey="y"
            type="linear"
            stroke="#000"
            strokeWidth={lineW}
            dot={false}
            activeDot={false}
            isAnimationActive={false}
          />
        ))}
        <Line
          data={pts(red)}
          xAxisId="m"
          yAxisId="m"
          dataKey="y"
          type="linear"
          stroke="#800000"
          strokeWidth={6.5}
          strokeLinejoin="round"
          strokeLinecap="round"
          dot={false}
          activeDot={false}
          isAnimationActive={false}
        />
      </LineChart>
    </div>
  );
}

const TL: Box = { left: 126, top: 95, w: 402, h: 302 };
const TR: Box = { left: 595, top: 95, w: 401, h: 302 };
const BL: Box = { left: 126, top: 449, w: 402, h: 303 };
const BR: Box = { left: 595, top: 449, w: 401, h: 303 };

function ETitle({ x, y }: { x: number; y: number }) {
  return (
    <text x={x} y={y} textAnchor="middle" style={titleStyle}>
      <tspan fontStyle="italic">E</tspan>
      <tspan>{" vs RHE / V"}</tspan>
    </text>
  );
}

function RTitle({ x, y, rot }: { x: number; y: number; rot: number }) {
  return (
    <text x={x} y={y} textAnchor="middle" transform={`rotate(${rot} ${x} ${y})`} style={titleStyle}>
      <tspan fontStyle="italic">R</tspan>
      <tspan fontSize={21} dy={8}>ct</tspan>
      <tspan fontSize={21} dx={-16} dy={-22}>-1</tspan>
      <tspan dy={14}>{" / mS cm"}</tspan>
      <tspan fontSize={21} dy={-13}>-2</tspan>
    </text>
  );
}

function CTitle({ x, y, rot }: { x: number; y: number; rot: number }) {
  return (
    <text x={x} y={y} textAnchor="middle" transform={`rotate(${rot} ${x} ${y})`} style={titleStyle}>
      <tspan fontStyle="italic">C</tspan>
      <tspan fontSize={21} dy={8}>dl</tspan>
      <tspan dy={-8}>{" / "}</tspan>
      <tspan fontStyle="italic">μ</tspan>
      <tspan>{"F cm"}</tspan>
      <tspan fontSize={21} dy={-13}>-2</tspan>
    </text>
  );
}

export default function App() {
  return (
    <div style={{ position: "absolute", left: 0, top: 0, width: 1122, height: 838, background: "#fff", overflow: "hidden" }}>
      <Panel box={TL} curves={tlCurves} red={tlRed} yDomain={[0, 10]} yTicks={rTicks} yLabels={rLabels} xSide="top" ySide="left" lineW={1.9} />
      <Panel box={TR} curves={trCurves} red={trRed} yDomain={[0, 10]} yTicks={rTicks} yLabels={rLabels} xSide="top" ySide="right" lineW={1.9} />
      <Panel box={BL} curves={blCurves} red={blRed} yDomain={[30, 120]} yTicks={cLeftTicks} yLabels={cLeftLabels} xSide="bottom" ySide="left" lineW={1.6} />
      <Panel box={BR} curves={brCurves} red={brRed} yDomain={[40, 120]} yTicks={cRightTicks} yLabels={cRightLabels} xSide="bottom" ySide="right" lineW={1.6} />
      <svg width={1122} height={838} style={{ position: "absolute", left: 0, top: 0, pointerEvents: "none" }}>
        <ETitle x={328} y={40} />
        <ETitle x={797} y={40} />
        <ETitle x={338} y={832} />
        <ETitle x={797} y={832} />
        <RTitle x={50} y={258} rot={-90} />
        <RTitle x={1088} y={258} rot={90} />
        <CTitle x={47} y={625} rot={-90} />
        <CTitle x={1088} y={628} rot={90} />
      </svg>
    </div>
  );
}
